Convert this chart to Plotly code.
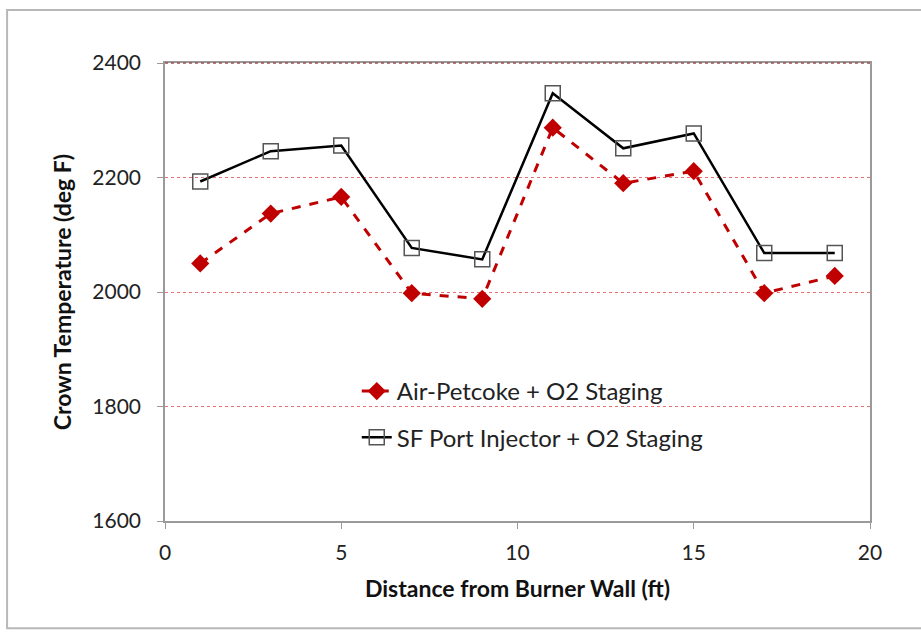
import plotly.graph_objects as go

distance = [1, 3, 5, 7, 9, 11, 13, 15, 17, 19]
air_petcoke = [2050, 2137, 2166, 1998, 1988, 2287, 2190, 2211, 1998, 2028]
sf_port = [2193, 2246, 2256, 2077, 2057, 2347, 2251, 2277, 2068, 2068]

series_names = ["Air-Petcoke + O2 Staging", "SF Port Injector + O2 Staging"]
x_title = "Distance from Burner Wall (ft)"
y_title = "Crown Temperature (deg F)"

FONT = "Lato, 'Open Sans', sans-serif"

fig = go.Figure()
fig.add_trace(go.Scatter(
    x=distance, y=air_petcoke, name=series_names[0], mode="lines+markers",
    legendgroup="a",
    line=dict(color="#C00000", width=3, dash="dash"),
    marker=dict(symbol="diamond", size=14, color="#C00000"),
))
fig.add_trace(go.Scatter(
    x=distance, y=sf_port, name=series_names[1], mode="lines+markers",
    legendgroup="b",
    line=dict(color="#000000", width=2.5),
    marker=dict(symbol="square-open", size=15, color="#555555", line=dict(width=1.5)),
))

fig.update_layout(
    width=921, height=632,
    margin=dict(l=165, r=51, t=63, b=111),
    paper_bgcolor="white", plot_bgcolor="white",
    font=dict(family=FONT, size=21, color="#222222"),
    showlegend=True,
    legend=dict(x=0.272, y=0.332, xanchor="left", yanchor="top",
                bgcolor="rgba(0,0,0,0)", font=dict(size=24, color="#222222"),
                itemwidth=30, tracegroupgap=12),
    xaxis=dict(range=[0, 20], tickvals=[0, 5, 10, 15, 20], showgrid=False,
               showline=True, linecolor="#9a9a9a", linewidth=1.5, mirror=True,
               ticks="outside", ticklen=6, tickcolor="#9a9a9a",
               ticklabelstandoff=6,
               zeroline=False,
               title=dict(text="<b>" + x_title + "</b>", font=dict(size=23, color="#111111"), standoff=18)),
    yaxis=dict(range=[1600, 2400], tickvals=[1600, 1800, 2000, 2200, 2400],
               showgrid=True, gridcolor="#E87070", griddash="dot", gridwidth=1,
               showline=True, linecolor="#9a9a9a", linewidth=1.5, mirror=True,
               ticks="outside", ticklen=6, tickcolor="#9a9a9a",
               ticklabelstandoff=12,
               zeroline=False,
               title=dict(text="<b>" + y_title + "</b>", font=dict(size=23, color="#111111"), standoff=14)),
    shapes=[
        dict(type="rect", xref="paper", yref="paper",
             x0=-0.224, x1=1.2, y0=-0.234, y1=1.1157,
             line=dict(color="#b8b8b8", width=2), fillcolor="rgba(0,0,0,0)", layer="below"),
        dict(type="line", xref="paper", yref="paper", x0=0, x1=1, y0=1, y1=1,
             line=dict(color="#A05050", width=1.5, dash="dot")),
    ],
)

fig.write_html("out.html", config={"displayModeBar": False},
               post_script="document.body.style.margin='0';document.body.style.overflow='hidden';")
